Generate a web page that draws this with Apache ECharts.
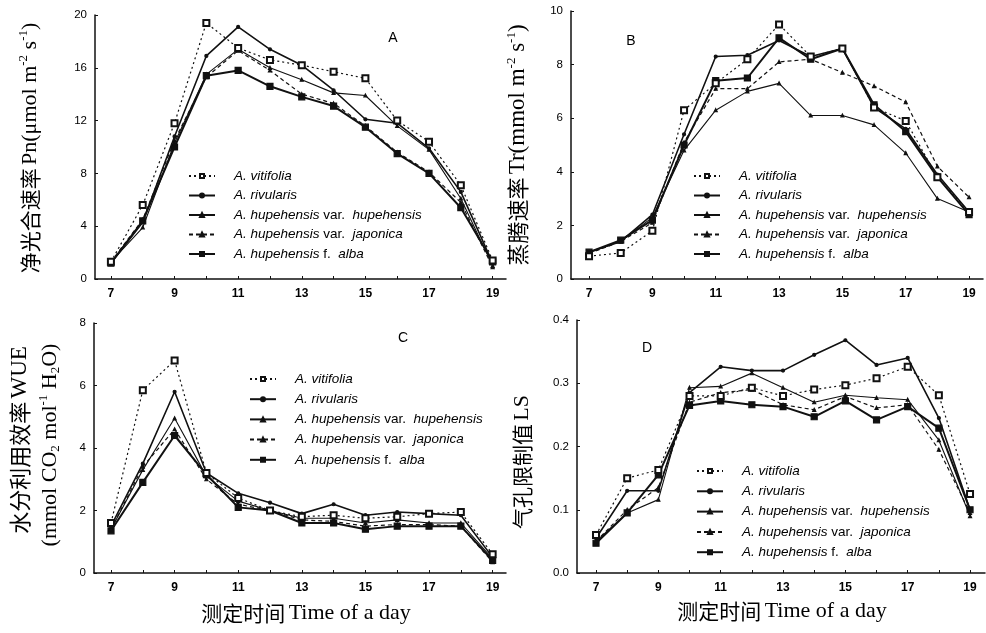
<!DOCTYPE html>
<html><head><meta charset="utf-8">
<script src="https://cdn.jsdelivr.net/npm/echarts@6/dist/echarts.min.js"></script>
<style>html,body{margin:0;padding:0;background:#fff}#c{width:986px;height:633px}</style>
</head><body><div id="c"></div>
<script>
const hours = [7,8,9,10,11,12,13,14,15,16,17,18,19];
const seriesNames = ['A. vitifolia','A. rivularis','A. hupehensis var. hupehensis','A. hupehensis var. japonica','A. hupehensis f. alba'];
const xTickLabels = [7,9,11,13,15,17,19];

// Panel A: Pn
const pnVitifolia  = [1.3, 5.6, 11.8, 19.4, 17.5, 16.6, 16.2, 15.7, 15.2, 12.0, 10.4, 7.1, 1.4];
const pnRivularis  = [1.2, 4.3, 10.8, 16.9, 19.1, 17.4, 16.2, 14.3, 12.1, 11.8, 9.9, 6.6, 1.2];
const pnHupehensis = [1.3, 3.9, 10.3, 15.5, 17.4, 16.0, 15.1, 14.1, 13.9, 11.6, 9.8, 6.1, 1.0];
const pnJaponica   = [1.3, 4.5, 10.5, 15.3, 17.3, 15.8, 14.0, 13.3, 11.6, 9.6, 8.1, 5.8, 0.9];
const pnAlba       = [1.2, 4.4, 10.0, 15.4, 15.8, 14.6, 13.8, 13.1, 11.5, 9.5, 8.0, 5.4, 1.3];
// Panel B: Tr
const trVitifolia  = [0.85, 0.97, 1.8, 6.3, 7.3, 8.2, 9.5, 8.3, 8.6, 6.4, 5.9, 3.8, 2.5];
const trRivularis  = [1.0, 1.4, 2.4, 5.4, 8.3, 8.35, 8.9, 8.3, 8.6, 6.4, 5.6, 3.9, 2.5];
const trHupehensis = [1.0, 1.4, 2.3, 4.8, 6.3, 7.0, 7.3, 6.1, 6.1, 5.75, 4.7, 3.0, 2.5];
const trJaponica   = [0.95, 1.4, 2.1, 5.1, 7.1, 7.1, 8.1, 8.2, 7.7, 7.2, 6.6, 4.2, 3.05];
const trAlba       = [1.0, 1.45, 2.2, 5.0, 7.4, 7.5, 9.0, 8.2, 8.6, 6.5, 5.5, 3.8, 2.4];
// Panel C: WUE
const wueVitifolia  = [1.6, 5.85, 6.8, 3.2, 2.4, 2.0, 1.8, 1.85, 1.75, 1.8, 1.9, 1.95, 0.6];
const wueRivularis  = [1.5, 3.5, 5.8, 3.2, 2.55, 2.25, 1.9, 2.2, 1.85, 1.95, 1.9, 1.85, 0.5];
const wueHupehensis = [1.4, 3.3, 4.95, 3.1, 2.3, 2.0, 1.75, 1.75, 1.6, 1.7, 1.6, 1.6, 0.45];
const wueJaponica   = [1.4, 3.4, 4.6, 3.0, 2.2, 2.0, 1.7, 1.65, 1.5, 1.55, 1.55, 1.5, 0.35];
const wueAlba       = [1.35, 2.9, 4.4, 3.15, 2.1, 2.0, 1.6, 1.6, 1.4, 1.5, 1.5, 1.5, 0.4];
// Panel D: LS
const lsVitifolia  = [0.06, 0.15, 0.163, 0.28, 0.28, 0.293, 0.28, 0.29, 0.297, 0.308, 0.326, 0.281, 0.125];
const lsRivularis  = [0.055, 0.13, 0.13, 0.285, 0.326, 0.32, 0.32, 0.345, 0.368, 0.329, 0.34, 0.245, 0.1];
const lsHupehensis = [0.05, 0.095, 0.116, 0.293, 0.295, 0.316, 0.293, 0.27, 0.281, 0.277, 0.274, 0.21, 0.09];
const lsJaponica   = [0.05, 0.1, 0.135, 0.27, 0.285, 0.29, 0.266, 0.258, 0.279, 0.261, 0.266, 0.195, 0.095];
const lsAlba       = [0.047, 0.095, 0.155, 0.265, 0.272, 0.266, 0.263, 0.247, 0.272, 0.242, 0.263, 0.229, 0.1];

const INK = '#111';
const styles = [
  {symbol:'emptyRect', symbolSize:6, lineStyle:{width:1.2, type:[2,3]}},
  {symbol:'circle', symbolSize:3, lineStyle:{width:1.6, type:'solid'}},
  {symbol:'triangle', symbolSize:3, lineStyle:{width:1.1, type:'solid'}},
  {symbol:'triangle', symbolSize:3, lineStyle:{width:1.2, type:[4,3]}},
  {symbol:'rect', symbolSize:6, lineStyle:{width:2, type:'solid'}}
];
const panels = [
  {data:[pnVitifolia,pnRivularis,pnHupehensis,pnJaponica,pnAlba], grid:{left:95,top:15,width:411,height:264}, xmin:6.5, xmax:19.42, ymin:0, ymax:20, step:4, dec:0, legend:{left:183, top:163, gap:3.5}},
  {data:[trVitifolia,trRivularis,trHupehensis,trJaponica,trAlba], grid:{left:571,top:11,width:412,height:268}, xmin:6.43, xmax:19.44, ymin:0, ymax:10, step:2, dec:0, legend:{left:688, top:163, gap:3.5}},
  {data:[wueVitifolia,wueRivularis,wueHupehensis,wueJaponica,wueAlba], grid:{left:94,top:323,width:412,height:250}, xmin:6.465, xmax:19.42, ymin:0, ymax:8, step:2, dec:0, legend:{left:244, top:366, gap:4.2}},
  {data:[lsVitifolia,lsRivularis,lsHupehensis,lsJaponica,lsAlba], grid:{left:577,top:320,width:408,height:253}, xmin:6.39, xmax:19.48, ymin:0, ymax:0.4, step:0.1, dec:1, legend:{left:691, top:458, gap:4.3}}
];

function legendFmt(name){
  if (name.indexOf(' var. ') >= 0) { const p = name.split(' var. '); return '{i|' + p[0] + '} {n|var.}  {i|' + p[1] + '}'; }
  if (name.indexOf(' f. ') >= 0) { const p = name.split(' f. '); return '{i|' + p[0] + '} {n|f.}  {i|' + p[1] + '}'; }
  return '{i|' + name + '}';
}

const LF = 13.5;
const option = {
  backgroundColor:'#fff', animation:false,
  grid: panels.map(p => p.grid),
  xAxis: panels.map((p,i) => ({
    type:'value', gridIndex:i, min:p.xmin, max:p.xmax,
    axisLine:{show:true, onZero:false, lineStyle:{color:INK, width:1.5}},
    axisTick:{show:true, inside:true, length:3, customValues:hours, lineStyle:{color:INK}},
    axisLabel:{customValues:xTickLabels, color:'#000', fontSize:12, fontFamily:'Liberation Sans', fontWeight:'bold', margin:9},
    splitLine:{show:false}
  })),
  yAxis: panels.map((p,i) => ({
    type:'value', gridIndex:i, min:p.ymin, max:p.ymax, interval:p.step,
    axisLine:{show:true, onZero:false, lineStyle:{color:INK, width:1.5}},
    axisTick:{show:true, inside:true, length:3, lineStyle:{color:INK}},
    axisLabel:{color:'#000', fontSize:11.5, fontFamily:'Liberation Sans', margin:8, formatter: v => v.toFixed(p.dec)},
    splitLine:{show:false}
  })),
  legend: panels.map(p => ({
    data: seriesNames, orient:'vertical', left:p.legend.left, top:p.legend.top,
    itemWidth:26, itemHeight:5, itemGap:p.legend.gap, selectedMode:false,
    formatter: legendFmt,
    textStyle:{color:'#000', fontSize:LF, fontFamily:'Liberation Sans', padding:[0,0,0,14], lineHeight:16,
      rich:{ i:{fontStyle:'italic', fontSize:LF, fontFamily:'Liberation Sans', color:'#000', lineHeight:16}, n:{fontSize:LF, fontFamily:'Liberation Sans', color:'#000', lineHeight:16} } }
  })),
  series: []
};
panels.forEach((p,i) => {
  p.data.forEach((arr,k) => {
    option.series.push({
      type:'line', name:seriesNames[k], xAxisIndex:i, yAxisIndex:i,
      data: hours.map((h,j) => [h, arr[j]]),
      symbol:styles[k].symbol, symbolSize:styles[k].symbolSize, showSymbol:true,
      itemStyle:{color:INK, borderColor:INK, borderWidth:1.2},
      lineStyle:Object.assign({color:INK}, styles[k].lineStyle),
      z: 10 - k
    });
  });
});

const cn = 'Noto Sans CJK SC', lat = 'Liberation Serif';
function titleRich(fs){
  return {
    c:{fontFamily:cn, fontSize:fs, color:'#000'},
    l:{fontFamily:lat, fontSize:fs+1, color:'#000'},
    s:{fontFamily:lat, fontSize:Math.round(fs*0.6), color:'#000', verticalAlign:'top', lineHeight:fs+4},
    b:{fontFamily:lat, fontSize:Math.round(fs*0.6), color:'#000', verticalAlign:'bottom', lineHeight:fs+4}
  };
}
function vText(x, y, text, fs){
  return {type:'text', x:x, y:y, rotation:Math.PI/2, style:{text:text, rich:titleRich(fs), align:'center', verticalAlign:'middle', fill:'#000'}};
}
option.graphic = [
  vText(30, 148, '{c|净光合速率} {l|Pn(μmol m}{s|-2}{l| s}{s|-1}{l|)}', 21),
  vText(518, 145, '{c|蒸腾速率} {l|Tr(mmol m}{s|-2}{l| s}{s|-1}{l|)}', 22),
  vText(20, 440, '{c|水分利用效率} {l|WUE}', 22),
  vText(50, 445, '{l|(mmol CO}{b|2}{l| mol}{s|-1}{l| H}{b|2}{l|O)}', 21),
  vText(522, 462, '{c|气孔限制值} {l|LS}', 21),
  {type:'text', x:306, y:613, style:{text:'{c|测定时间} {l|Time of a day}', rich:titleRich(21), align:'center', verticalAlign:'middle'}},
  {type:'text', x:782, y:611, style:{text:'{c|测定时间} {l|Time of a day}', rich:titleRich(21), align:'center', verticalAlign:'middle'}},
  {type:'text', x:393, y:38, style:{text:'A', font:'14px Liberation Sans', fill:'#000', align:'center', verticalAlign:'middle'}},
  {type:'text', x:631, y:41, style:{text:'B', font:'14px Liberation Sans', fill:'#000', align:'center', verticalAlign:'middle'}},
  {type:'text', x:403, y:338, style:{text:'C', font:'14px Liberation Sans', fill:'#000', align:'center', verticalAlign:'middle'}},
  {type:'text', x:647, y:348, style:{text:'D', font:'14px Liberation Sans', fill:'#000', align:'center', verticalAlign:'middle'}}
];

const chart = echarts.init(document.getElementById('c'), null, {renderer:'canvas'});
chart.setOption(option);
</script>
</body></html>
